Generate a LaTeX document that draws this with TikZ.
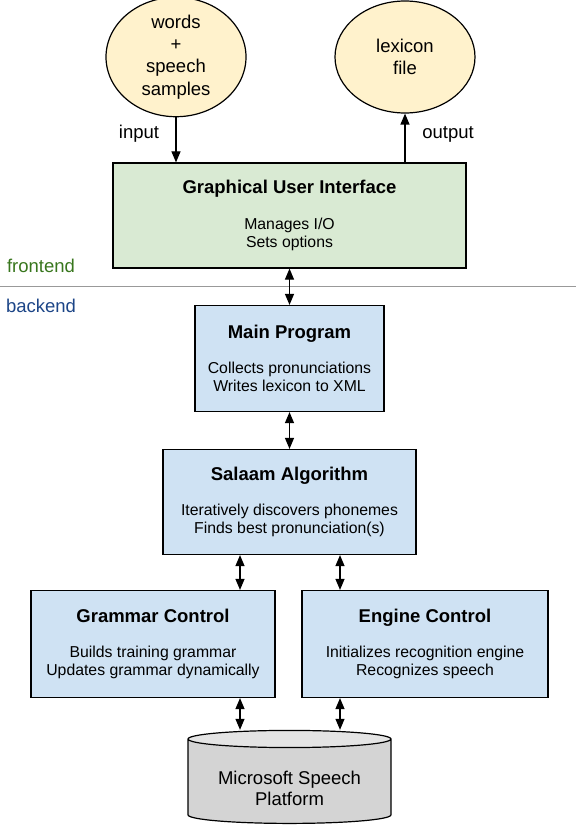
\documentclass[tikz,border=0pt]{standalone}
\usepackage{fontspec}
\setmainfont{Liberation Sans}
\usetikzlibrary{arrows.meta, positioning, shapes.geometric, calc}

\definecolor{ioyellow}{HTML}{FFF2CC}
\definecolor{guigreen}{HTML}{D9EAD3}
\definecolor{modblue}{HTML}{CFE2F3}
\definecolor{platgray}{HTML}{D4D4D4}
\definecolor{plattop}{HTML}{E4E4E4}
\definecolor{frontgreen}{HTML}{38761D}
\definecolor{backblue}{HTML}{1C4587}

\begin{document}
\begin{tikzpicture}[x=1pt, y=-1pt, line width=1.2pt,
  >={Triangle[length=11pt,width=9pt]},
  iofile/.style={ellipse, draw, fill=ioyellow, inner sep=0pt,
    minimum width=140pt, minimum height=112pt, align=center,
    font=\fontsize{18.5}{22.4}\selectfont},
  module/.style={rectangle, draw, fill=modblue, inner sep=0pt, align=center,
    font=\fontsize{15.8}{18}\selectfont},
  sidelabel/.style={font=\fontsize{18.5}{20}\selectfont}]
  \useasboundingbox (0,0) rectangle (576,834);

  % Input and output files
  \node[iofile] (words) at (176,57) {words\\+\\speech\\samples};
  \node[iofile] (lexicon) at (405,57) {lexicon\\file};

  % Frontend
  \node[module, fill=guigreen, minimum width=353pt, minimum height=105pt]
    (gui) at (289.5,215.5)
    {{\bfseries\fontsize{18.5}{20}\selectfont Graphical User Interface}\\[17.7pt]
     Manages I/O\\Sets options};

  \draw[->] (words.south) -- (gui.north -| words.south);
  \draw[->] (gui.north -| lexicon.south) -- (lexicon.south);
  \node[sidelabel] (inlabel) at (139,134) {input};
  \node[sidelabel] (outlabel) at (448,134) {output};

  % Frontend / backend divider
  \coordinate (divleft) at (0,286);
  \coordinate (divright) at (576,286);
  \draw[gray!80, line width=1pt] (divleft) -- (divright);
  \node[sidelabel, text=frontgreen] (frontlabel) at (41,266) {frontend};
  \node[sidelabel, text=backblue] (backlabel) at (41,306) {backend};

  % Backend modules
  \node[module, minimum width=189pt, minimum height=106pt] (main) at (289.5,358.5)
    {{\bfseries\fontsize{18.5}{20}\selectfont Main Program}\\[17.7pt]
     Collects pronunciations\\Writes lexicon to XML};
  \node[module, minimum width=253pt, minimum height=105pt] (salaam) at (289.5,502)
    {{\bfseries\fontsize{18.5}{20}\selectfont Salaam Algorithm}\\[17.7pt]
     Iteratively discovers phonemes\\Finds best pronunciation(s)};
  \node[module, minimum width=244pt, minimum height=107pt] (grammar) at (153,644)
    {{\bfseries\fontsize{18.5}{20}\selectfont Grammar Control}\\[17.7pt]
     Builds training grammar\\Updates grammar dynamically};
  \node[module, minimum width=246pt, minimum height=107pt] (engine) at (425,644)
    {{\bfseries\fontsize{18.5}{20}\selectfont Engine Control}\\[17.7pt]
     Initializes recognition engine\\Recognizes speech};

  % Speech platform
  \node[cylinder, shape border rotate=90, draw, aspect=0.12,
    cylinder uses custom fill, cylinder body fill=platgray,
    cylinder end fill=plattop, inner sep=0pt,
    minimum width=203pt, minimum height=93pt,
    font=\fontsize{18.5}{20.7}\selectfont] (mssp) at (289.5,781.5)
    {\begin{tabular}{@{}c@{}}\rule{0pt}{32.5pt}Microsoft Speech\\Platform\end{tabular}};

  % Links
  \coordinate (lx) at (240,0);
  \coordinate (rx) at (340,0);
  \draw[<->] (gui.south) -- (main.north);
  \draw[<->] (main.south) -- (salaam.north);
  \draw[<->] (salaam.south -| lx) -- (grammar.north -| lx);
  \draw[<->] (salaam.south -| rx) -- (engine.north -| rx);
  \draw[<->] (grammar.south -| lx) -- (mssp.north -| lx);
  \draw[<->] (engine.south -| rx) -- (mssp.north -| rx);
\end{tikzpicture}
\end{document}
